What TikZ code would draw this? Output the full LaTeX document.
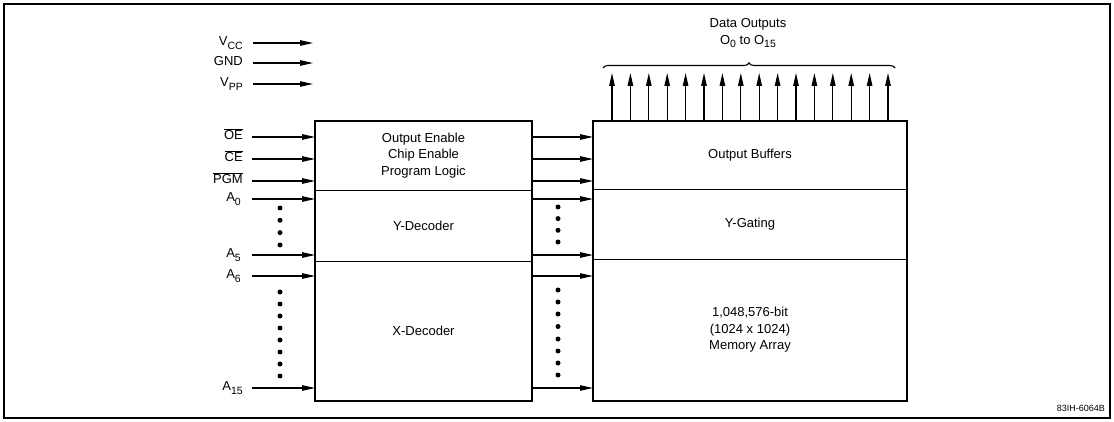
\documentclass[tikz,border=0pt]{standalone}
\usepackage{fontspec}
\setmainfont{Liberation Sans}
\usetikzlibrary{arrows.meta}
\usetikzlibrary{decorations.pathreplacing}
\newcommand{\lsub}[1]{\raisebox{-0.5ex}{\fontsize{10.5}{10.5}\selectfont #1}} % subscript of a pin name
\newcommand{\lowact}[1]{$\overline{\mbox{#1}}$} % active low pin
\newcommand{\dotcol}[2] % x in px, list of y in px
{
	\foreach \yy in {#2} \fill (#1,\yy) circle (2.5);
}

\begin{document}
\begin{tikzpicture}[x=1pt, y=-1pt,
	font=\fontsize{13}{16.5}\selectfont,
	sig/.style={-{Triangle[length=13pt,width=5.5pt]}, line width=1.1pt},
	block/.style={inner sep=0pt, outer sep=0pt, align=center},
	outline/.style={line width=2pt},
	pin/.style={anchor=mid east, inner sep=0pt}]
	\useasboundingbox (0,0) rectangle (1114,422);
	% frame
	\draw[outline] (4,4) rectangle (1110,418);
	% left block: control logic and decoders
	\node[block, minimum width=217, minimum height=69] (logic) at (423.5,155.5) {Output Enable\\Chip Enable\\Program Logic};
	\node[block, minimum width=217, minimum height=71] (ydec) at (423.5,225.5) {Y-Decoder};
	\node[block, minimum width=217, minimum height=140] (xdec) at (423.5,331) {X-Decoder};
	\draw[outline] (logic.north west) rectangle (xdec.south east);
	\draw (logic.south west) -- (logic.south east);
	\draw (ydec.south west) -- (ydec.south east);
	% right block: buffers, gating and array
	\node[block, minimum width=314, minimum height=68] (buf) at (750,155) {Output Buffers};
	\node[block, minimum width=314, minimum height=70] (ygate) at (750,224) {Y-Gating};
	\node[block, minimum width=314, minimum height=142] (mem) at (750,330) {1,048,576-bit\\(1024 x 1024)\\Memory Array};
	\draw[outline] (buf.north west) rectangle (mem.south east);
	\draw (buf.south west) -- (buf.south east);
	\draw (ygate.south west) -- (ygate.south east);
	% supply pins
	\coordinate (pwrend) at (313,0);
	\node[pin] (vcc) at (243,43) {V\lsub{CC}};
	\node[pin] (gnd) at (243,63) {GND};
	\node[pin] (vpp) at (243,84) {V\lsub{PP}};
	\draw[sig] ([xshift=10pt]vcc.mid east) -- (vcc.mid east -| pwrend);
	\draw[sig] ([xshift=10pt]gnd.mid east) -- (gnd.mid east -| pwrend);
	\draw[sig] ([xshift=10pt]vpp.mid east) -- (vpp.mid east -| pwrend);
	% control and address pins
	\node[pin] (oe) at (243,137) {\lowact{OE}};
	\node[pin] (ce) at (243,159) {\lowact{CE}};
	\node[pin] (pgm) at (243,181) {\lowact{PGM}};
	\node[pin] (a0) at (241,199) {A\lsub{0}};
	\node[pin] (a5) at (241,255) {A\lsub{5}};
	\node[pin] (a6) at (241,276) {A\lsub{6}};
	\node[pin] (a15) at (243,388) {A\lsub{15}};
	\foreach \p in {oe,ce,pgm,a0,a5,a6,a15}
	{
		\draw[sig] (\p.mid east -| 252,0) -- (\p.mid east -| logic.west);
		\draw[sig] (\p.mid east -| logic.east) -- (\p.mid east -| buf.west);
	}
	\dotcol{280}{208,220.3,232.6,245}
	\dotcol{280}{292,304,316,328,340,352,364,376}
	\dotcol{558}{207,218.6,230.3,242}
	\dotcol{558}{290,302,314,326.5,339,351,363,375}
	% data outputs
	\foreach \i in {0,...,15}
		\draw[sig] ([xshift=19pt+18.4pt*\i]buf.north west) -- ++(0,-48);
	\coordinate (brl) at (603,68);
	\coordinate (brr) at (895,68);
	\draw[decorate, decoration={brace, amplitude=5pt}, line width=1.1pt] (brl) -- (brr);
	\node[block] (dout) at (748,33) {Data Outputs\\O\lsub{0} to O\lsub{15}};
	\node[anchor=east, inner sep=0pt, font=\fontsize{9}{10}\selectfont] (figid) at (1105,408) {83IH-6064B};
\end{tikzpicture}
\end{document}
